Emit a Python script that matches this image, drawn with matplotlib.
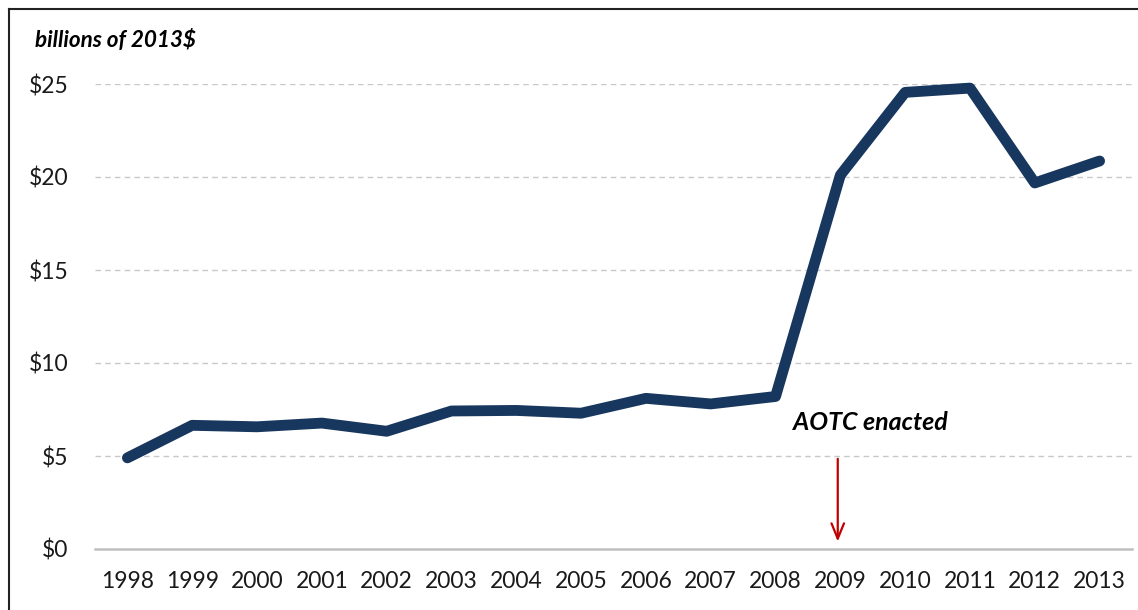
import matplotlib
matplotlib.use("Agg")
import matplotlib.pyplot as plt
from matplotlib.lines import Line2D

years = ["1998", "1999", "2000", "2001", "2002", "2003", "2004", "2005",
         "2006", "2007", "2008", "2009", "2010", "2011", "2012", "2013"]
values = [4.9, 6.65, 6.57, 6.77, 6.33, 7.42, 7.45, 7.3,
          8.1, 7.8, 8.2, 20.1, 24.55, 24.78, 19.68, 20.86]
yticks = [0, 5, 10, 15, 20, 25]
ytick_labels = ["$0", "$5", "$10", "$15", "$20", "$25"]
unit_label = "billions of 2013$"
annotation = "AOTC enacted"
annot_year = "2009"

plt.rcParams['font.family'] = ['Lato', 'DejaVu Sans']

fig = plt.figure(figsize=(11.38, 6.10), dpi=100)
W, H = 1138, 610
ax = fig.add_axes([95 / W, 1 - 549 / H, (1132 - 95) / W, (549 - 84) / H])

x = list(range(len(years)))
ax.plot(x, values, color="#17375E", lw=7.8, solid_joinstyle="round",
        solid_capstyle="round", clip_on=False, zorder=3)

ax.set_xlim(-0.5, len(years) - 0.5)
ax.set_ylim(0, 25)
ax.set_yticks(yticks)
ax.set_yticklabels(ytick_labels)
ax.set_xticks(x)
ax.set_xticklabels(years)
ax.tick_params(axis="y", length=0, pad=19, labelsize=16.5, labelcolor="#1a1a1a")
ax.tick_params(axis="x", length=0, pad=16, labelsize=16.5, labelcolor="#1a1a1a")
for t in yticks[1:]:
    ax.axhline(t, color="#c8c8c8", lw=1.0, ls=(0, (4, 3)), zorder=1)
for s in ["top", "right", "left"]:
    ax.spines[s].set_visible(False)
ax.spines["bottom"].set_color("#c0c0c0")
ax.spines["bottom"].set_linewidth(1.8)

ai = years.index(annot_year)
ax.annotate("", xy=(ai - 0.04, 0.25), xytext=(ai - 0.04, 5.0),
            arrowprops=dict(arrowstyle="->,head_length=1.1,head_width=0.45",
                            color="#C00000", lw=1.6), zorder=4)
ax.text(ai + 0.47, 6.8, annotation, ha="center", va="center",
        fontsize=18, fontweight="bold", fontstyle="italic", color="#000000")

fig.text(35 / W, 1 - 40 / H, unit_label, ha="left", va="center",
         fontsize=16.2, fontweight="bold", fontstyle="italic", color="#000000")

# figure frame (top and left edges visible)
fig.add_artist(Line2D([9 / W, 1.0], [1 - 9 / H, 1 - 9 / H], color="#222222", lw=1.5,
                      transform=fig.transFigure))
fig.add_artist(Line2D([9 / W, 9 / W], [0.0, 1 - 9 / H], color="#222222", lw=1.5,
                      transform=fig.transFigure))

fig.savefig("out.png", dpi=100)
